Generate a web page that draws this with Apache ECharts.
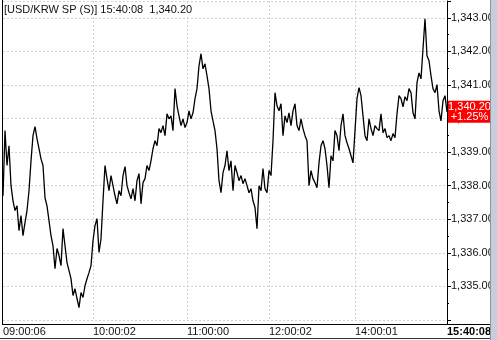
<!DOCTYPE html>
<html>
<head>
<meta charset="utf-8">
<script src="https://cdn.jsdelivr.net/npm/echarts@6/dist/echarts.min.js"></script>
<style>
html,body{margin:0;padding:0;background:#fff;}
#c{width:497px;height:340px;}
</style>
</head>
<body>
<div id="c"></div>
<script>
const prices = [
1337.70,1339.64,1338.60,1339.19,1338.00,1337.55,1337.26,1337.40,1336.66,1337.11,
1336.51,1336.90,1337.26,1337.85,1338.74,1339.49,1339.76,1339.40,1339.10,1338.80,
1338.60,1337.64,1337.40,1336.96,1336.51,1336.21,1335.53,1336.13,1335.92,1335.62,
1336.72,1336.21,1335.71,1335.47,1335.23,1334.73,1334.93,1334.64,1334.37,1334.82,
1334.67,1335.02,1335.23,1335.41,1335.62,1336.36,1336.81,1337.02,1336.01,1336.42,
1337.55,1338.60,1338.21,1337.85,1338.30,1338.00,1337.70,1337.46,1337.85,1337.70,
1338.30,1338.57,1338.00,1337.79,1337.61,1337.91,1337.55,1338.15,1338.36,1337.46,
1338.09,1338.21,1338.60,1338.45,1338.74,1339.10,1339.34,1339.19,1339.70,1339.58,
1339.79,1339.49,1340.14,1339.99,1340.08,1339.64,1340.89,1340.38,1340.08,1339.79,
1339.99,1339.73,1339.88,1340.23,1339.99,1340.17,1340.59,1340.89,1341.57,1341.93,
1341.48,1341.63,1341.27,1340.89,1340.23,1339.93,1339.64,1339.10,1338.15,1337.79,
1338.39,1338.60,1339.04,1338.45,1338.74,1337.85,1338.60,1338.39,1338.15,1338.30,
1338.06,1338.21,1338.00,1337.79,1337.91,1337.55,1337.35,1336.72,1338.00,1337.85,
1338.51,1337.91,1337.79,1338.45,1338.30,1339.34,1340.77,1340.38,1340.23,1340.44,
1339.49,1340.08,1339.88,1340.17,1339.79,1340.23,1340.44,1339.79,1339.64,1339.99,
1339.70,1339.49,1339.34,1338.00,1338.45,1338.21,1338.09,1337.94,1338.68,1339.19,
1339.34,1339.10,1338.60,1337.94,1338.89,1338.74,1339.64,1339.49,1339.04,1339.79,
1340.14,1339.49,1339.28,1339.10,1338.89,1338.68,1339.64,1340.59,1340.92,1340.68,
1340.08,1339.49,1339.34,1339.99,1339.70,1339.49,1339.79,1339.70,1339.64,1340.14,
1339.58,1339.70,1339.43,1339.49,1339.34,1339.55,1339.43,1340.14,1340.68,1340.59,
1340.35,1340.65,1340.53,1340.89,1340.77,1340.17,1339.99,1341.07,1341.36,1341.18,
1342.08,1342.97,1341.87,1341.72,1341.27,1340.89,1340.77,1341.01,1340.23,1339.93,
1340.53,1340.68,1340.20
];
const xTickIndex = [0, 45, 92, 133, 176, 222];
const xTickLabels = ['09:00:06', '10:00:02', '11:00:00', '12:00:02', '14:00:01', '15:40:08'];
const yMin = 1334, yMax = 1343.5, yStep = 1;
const titleText = '[USD/KRW SP (S)] 15:40:08  1,340.20';
const lastPrice = 1340.20;
const lastLabel = '1,340.20';
const changeLabel = '+1.25%';

const categories = prices.map((_, i) => {
  const k = xTickIndex.indexOf(i);
  return k >= 0 ? xTickLabels[k] : '';
});
const FONT = '"Liberation Sans", Arial, sans-serif';
function fmt(v) {
  const s = v.toFixed(2).split('.');
  return s[0].replace(/\B(?=(\d{3})+(?!\d))/g, ',') + '.' + s[1];
}

const chart = echarts.init(document.getElementById('c'), null, {renderer: 'canvas'});
chart.setOption({
  animation: false,
  backgroundColor: '#ffffff',
  grid: {left: 3, right: 50, top: 1, bottom: 20, containLabel: false},
  xAxis: {
    type: 'category',
    data: categories,
    boundaryGap: false,
    axisLine: {show: false},
    axisTick: {show: false},
    axisLabel: {
      interval: (i) => xTickIndex.includes(i),
      align: 'left',
      margin: 6,
      color: '#111',
      fontFamily: FONT,
      fontSize: 11,
      formatter: (v, i) => i === xTickIndex[xTickIndex.length - 1] ? '{b|' + v + '}' : v,
      rich: {b: {fontWeight: 'bold', fontFamily: FONT, fontSize: 11, color: '#000'}}
    },
    splitLine: {
      show: true,
      interval: (i) => xTickIndex.includes(i) && i !== 0 && i !== xTickIndex[xTickIndex.length - 1],
      lineStyle: {color: '#d2d2d2', type: [2, 2], width: 1}
    }
  },
  yAxis: {
    type: 'value',
    position: 'right',
    min: yMin,
    max: yMax,
    interval: yStep,
    scale: true,
    axisLine: {show: true, lineStyle: {color: '#000', width: 1}},
    axisTick: {show: true, length: 4, lineStyle: {color: '#000'}},
    minorTick: {show: true, splitNumber: 2, length: 2, lineStyle: {color: '#000'}},
    axisLabel: {
      margin: 4,
      color: '#111',
      fontFamily: FONT,
      fontSize: 11,
      showMinLabel: false,
      showMaxLabel: false,
      formatter: (v) => (Number.isInteger(v) ? fmt(v) : '')
    },
    splitLine: {show: true, lineStyle: {color: '#d2d2d2', type: [2, 2], width: 1}}
  },
  series: [{
    type: 'line',
    data: prices,
    symbol: 'none',
    lineStyle: {color: '#000', width: 1.3},
    z: 3
  }]
});

const yLast = chart.convertToPixel({yAxisIndex: 0}, lastPrice);
chart.setOption({
  graphic: [
    {type: 'text', left: 4, top: 4, z: 10,
      style: {text: titleText, font: '11px ' + FONT, fill: '#111', backgroundColor: '#fff'}},
    {type: 'line', shape: {x1: 2.5, y1: 0, x2: 2.5, y2: 324}, style: {stroke: '#000', lineWidth: 1}, z: 10},
    {type: 'line', shape: {x1: 2, y1: 324.5, x2: 491, y2: 324.5}, style: {stroke: '#000', lineWidth: 1}, z: 10},
    {type: 'line', shape: {x1: 447.5, y1: 319, x2: 447.5, y2: 324}, style: {stroke: '#000', lineWidth: 1}, z: 10},
    {type: 'line', shape: {x1: 0, y1: 338.5, x2: 491, y2: 338.5}, style: {stroke: '#333', lineWidth: 1}, z: 10},
    {type: 'rect', shape: {x: 448, y: yLast - 11, width: 43, height: 22}, style: {fill: '#ff0000'}, z: 20},
    {type: 'text', x: 469.5, y: yLast - 5, z: 21,
      style: {text: lastLabel, font: '11px ' + FONT, fill: '#fff', align: 'center', verticalAlign: 'middle'}},
    {type: 'text', x: 469.5, y: yLast + 5.5, z: 21,
      style: {text: changeLabel, font: '11px ' + FONT, fill: '#fff', align: 'center', verticalAlign: 'middle'}},
    {type: 'rect', shape: {x: 491, y: 0, width: 6, height: 340}, style: {fill: '#c6cedb'}, z: 30},
    {type: 'line', shape: {x1: 490.5, y1: 0, x2: 490.5, y2: 340}, style: {stroke: '#8a94a6', lineWidth: 1}, z: 31}
  ]
});
</script>
</body>
</html>
